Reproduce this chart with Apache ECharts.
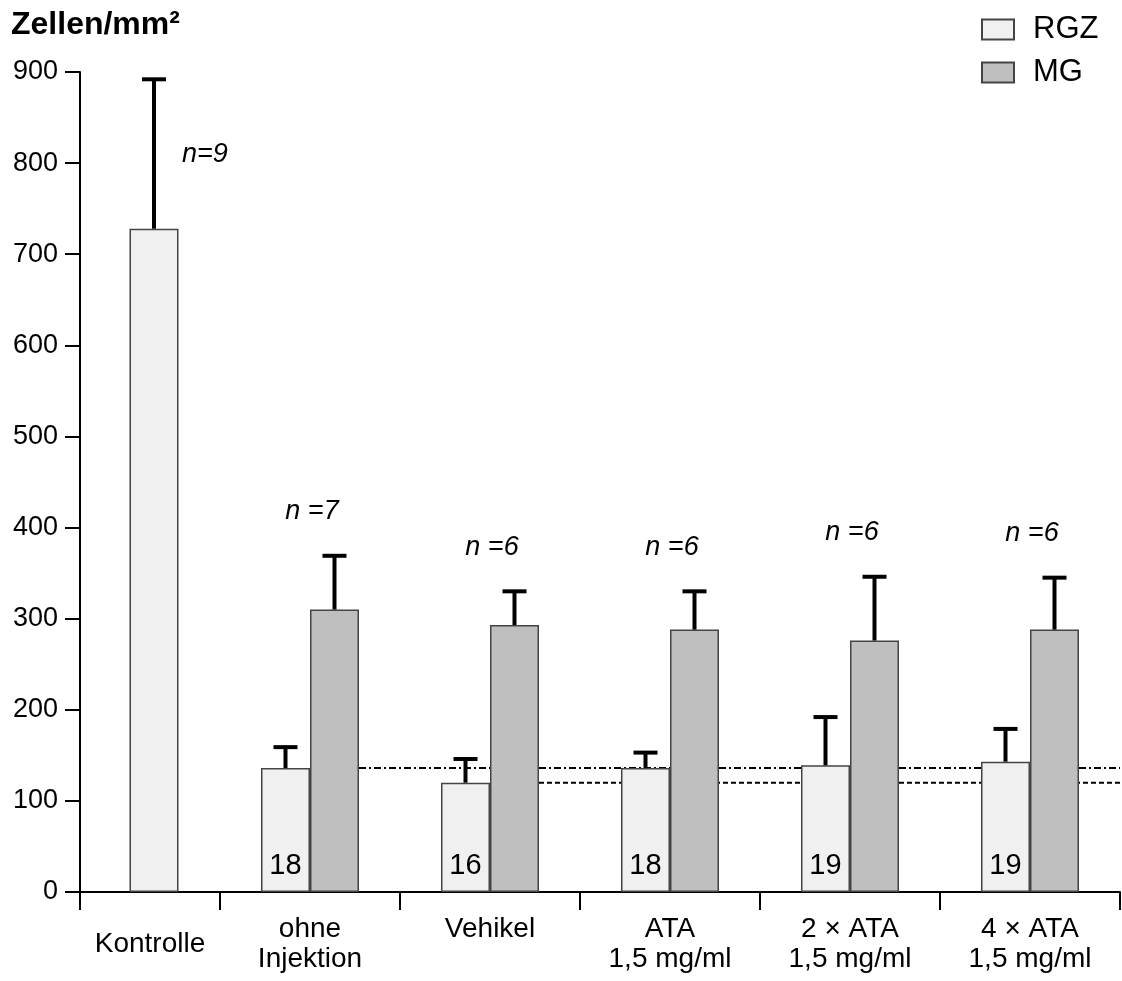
<!DOCTYPE html>
<html>
<head>
<meta charset="utf-8">
<script src="https://cdn.jsdelivr.net/npm/echarts@6/dist/echarts.min.js"></script>
<style>
  html, body { margin: 0; padding: 0; background: #fff; }
  #chart { width: 1122px; height: 981px; }
</style>
</head>
<body>
<div id="chart"></div>
<script>
// values
var categories = ['Kontrolle', 'ohne\nInjektion', 'Vehikel', 'ATA\n1,5 mg/ml', '2 × ATA\n1,5 mg/ml', '4 × ATA\n1,5 mg/ml'];
var rgzMean = [728, 136, 120, 136, 139, 143];
var rgzSd = [164, 23, 26, 17, 53, 36];
var mgMean = [null, 310, 293, 288, 276, 288];
var mgSd = [null, 59, 37, 42, 70, 57];
var cellCounts = [null, 18, 16, 18, 19, 19];
var nLabels = ['n=9', 'n =7', 'n =6', 'n =6', 'n =6', 'n =6'];
var refLineIdx = [1, 2]; // RGZ means used for the dotted reference lines
var yTicks = [0, 900, 100];

var font = 'Liberation Sans, Arial, sans-serif';
var rgzColor = '#f0f0f0';
var mgColor = '#bfbfbf';
var barW = 49;
var padW = 8; // empty slot that nudges the Kontrolle bar right

var chart = echarts.init(document.getElementById('chart'));

var catsB = categories.slice(1);

function errorRender(offset) {
  return function (params, api) {
    var base = api.coord([api.value(0), api.value(1)]);
    var top = api.coord([api.value(0), api.value(2)]);
    var cx = base[0] + offset;
    return {
      type: 'group',
      children: [
        { type: 'line', shape: { x1: cx, y1: base[1], x2: cx, y2: top[1] }, style: { stroke: '#000', lineWidth: 4 } },
        { type: 'line', shape: { x1: cx - 12, y1: top[1], x2: cx + 12, y2: top[1] }, style: { stroke: '#000', lineWidth: 4 } }
      ]
    };
  };
}

var errA = [[0, rgzMean[0], rgzMean[0] + rgzSd[0]]];
var errRgzB = [], errMgB = [], nB = [], barRgzB = [], barMgB = [];
for (var i = 1; i < categories.length; i++) {
  errRgzB.push([i - 1, rgzMean[i], rgzMean[i] + rgzSd[i]]);
  errMgB.push([i - 1, mgMean[i], mgMean[i] + mgSd[i]]);
  nB.push([i - 1, mgMean[i] + mgSd[i], nLabels[i]]);
  barRgzB.push({ value: rgzMean[i], label: { formatter: String(cellCounts[i]) } });
  barMgB.push(mgMean[i]);
}
var refData = refLineIdx.map(function (idx, k) { return [idx - 1, rgzMean[idx], k]; });

var barStyleRgz = { color: rgzColor, borderColor: '#444', borderWidth: 1.5 };
var barStyleMg = { color: mgColor, borderColor: '#444', borderWidth: 1.5 };

var xAxisCommon = {
  type: 'category',
  boundaryGap: true,
  axisLine: { lineStyle: { color: '#000', width: 2 } },
  axisTick: { show: true, length: 18, lineStyle: { color: '#000', width: 2 } },
  axisLabel: { color: '#000', fontFamily: font, fontSize: 28, lineHeight: 30 }
};

var option = {
  animation: false,
  backgroundColor: '#fff',
  title: {
    text: 'Zellen/mm²',
    left: 11, top: 9, padding: 0,
    textStyle: { fontFamily: font, fontSize: 32, fontWeight: 'bold', color: '#000' }
  },
  legend: {
    data: ['RGZ', 'MG'],
    orient: 'vertical',
    left: 981, top: 14, padding: 0,
    itemWidth: 32, itemHeight: 20, itemGap: 12,
    icon: 'rect',
    textStyle: { fontFamily: font, fontSize: 31, color: '#000', padding: [0, 0, 0, 14] }
  },
  grid: [
    { left: 80, width: 140, top: 72, bottom: 89 },
    { left: 220, right: 2, top: 72, bottom: 89 }
  ],
  xAxis: [
    Object.assign({}, xAxisCommon, { gridIndex: 0, data: [categories[0]],
      axisLabel: Object.assign({}, xAxisCommon.axisLabel, { margin: 37 }) }),
    Object.assign({}, xAxisCommon, { gridIndex: 1, data: catsB,
      axisLabel: Object.assign({}, xAxisCommon.axisLabel, { margin: 22 }) })
  ],
  yAxis: [
    {
      gridIndex: 0, type: 'value', min: yTicks[0], max: yTicks[1], interval: yTicks[2],
      axisLine: { show: true, lineStyle: { color: '#000', width: 2 } },
      axisTick: { show: true, length: 15, lineStyle: { color: '#000', width: 2 } },
      axisLabel: { color: '#000', fontFamily: font, fontSize: 27, margin: 22 },
      splitLine: { show: false }
    },
    {
      gridIndex: 1, type: 'value', min: yTicks[0], max: yTicks[1], interval: yTicks[2],
      show: false, splitLine: { show: false }
    }
  ],
  series: [
    {
      name: 'RGZ-ref', type: 'custom', xAxisIndex: 1, yAxisIndex: 1, z: 1,
      data: refData,
      encode: { x: 0, y: 1 },
      renderItem: function (params, api) {
        var p = api.coord([api.value(0), api.value(1)]);
        var dash = api.value(2) === 0 ? [7, 3, 2, 3] : [5, 3];
        return {
          type: 'line',
          shape: { x1: p[0] + barW, y1: p[1], x2: params.coordSys.x + params.coordSys.width, y2: p[1] },
          style: { stroke: '#000', lineWidth: 2, lineDash: dash }
        };
      }
    },
    {
      type: 'bar', xAxisIndex: 0, yAxisIndex: 0, z: 2,
      barWidth: padW, data: ['-'], silent: true
    },
    {
      name: 'RGZ', type: 'bar', xAxisIndex: 0, yAxisIndex: 0, z: 2,
      barWidth: barW, barGap: '0%', data: [rgzMean[0]], itemStyle: barStyleRgz
    },
    {
      name: 'RGZ', type: 'bar', xAxisIndex: 1, yAxisIndex: 1, z: 2,
      barWidth: barW, barGap: '0%', data: barRgzB, itemStyle: barStyleRgz,
      label: { show: true, position: 'insideBottom', distance: 11, color: '#000',
        fontFamily: font, fontSize: 29, lineHeight: 30 }
    },
    {
      name: 'MG', type: 'bar', xAxisIndex: 1, yAxisIndex: 1, z: 2,
      barWidth: barW, barGap: '0%', data: barMgB, itemStyle: barStyleMg
    },
    {
      type: 'custom', xAxisIndex: 0, yAxisIndex: 0, z: 3,
      data: errA, encode: { x: 0, y: [1, 2] }, renderItem: errorRender(padW / 2)
    },
    {
      type: 'custom', xAxisIndex: 1, yAxisIndex: 1, z: 3,
      data: errRgzB, encode: { x: 0, y: [1, 2] }, renderItem: errorRender(-barW / 2)
    },
    {
      type: 'custom', xAxisIndex: 1, yAxisIndex: 1, z: 3,
      data: errMgB, encode: { x: 0, y: [1, 2] }, renderItem: errorRender(barW / 2)
    },
    {
      // n labels above each group
      type: 'custom', xAxisIndex: 1, yAxisIndex: 1, z: 3,
      data: nB, encode: { x: 0, y: 1 },
      renderItem: function (params, api) {
        var p = api.coord([api.value(0), api.value(1)]);
        return {
          type: 'text',
          style: { x: p[0] + 2, y: p[1] - 44, text: nB[params.dataIndex][2], fill: '#000',
            font: 'italic 27px ' + font, align: 'center', verticalAlign: 'middle' }
        };
      }
    },
    {
      type: 'custom', xAxisIndex: 0, yAxisIndex: 0, z: 3,
      data: [[0, rgzMean[0] + rgzSd[0] / 2]], encode: { x: 0, y: 1 },
      renderItem: function (params, api) {
        var p = api.coord([api.value(0), api.value(1)]);
        return {
          type: 'text',
          style: { x: p[0] + 32, y: p[1], text: nLabels[0], fill: '#000',
            font: 'italic 27px ' + font, align: 'left', verticalAlign: 'middle' }
        };
      }
    }
  ]
};

chart.setOption(option);
</script>
</body>
</html>
